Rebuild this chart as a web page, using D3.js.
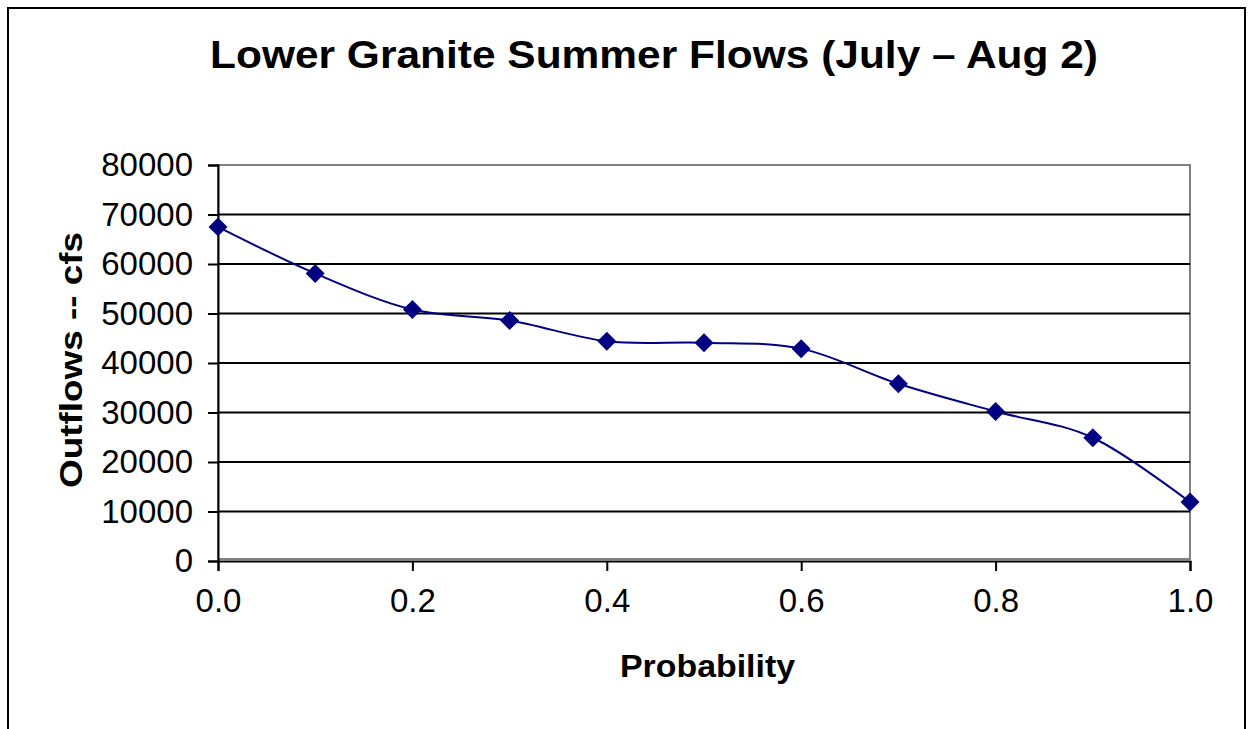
<!DOCTYPE html>
<head>
	<meta charset="utf-8">
	<title>Lower Granite Summer Flows</title>
	<script src="https://d3js.org/d3.v7.min.js"></script>
	<style>
		body { margin: 0; background: #fff; }
		text { font-family: "Liberation Sans", Arial, sans-serif; }
	</style>
</head>
<body>
	<div id="chart"></div>
	<script>
		// values
		var probability = [0.0, 0.1, 0.2, 0.3, 0.4, 0.5, 0.6, 0.7, 0.8, 0.9, 1.0];
		var outflows = [67500, 58100, 50800, 48600, 44400, 44100, 42900, 35800, 30200, 24900, 11900];
		var yTicks = [0, 10000, 20000, 30000, 40000, 50000, 60000, 70000, 80000];
		var xTicks = [0.0, 0.2, 0.4, 0.6, 0.8, 1.0];

		var W = 1250, H = 729;
		var plot = { left: 218, right: 1190, top: 165, bottom: 561 };

		var svg = d3.select("#chart").append("svg")
			.attr("width", W)
			.attr("height", H);

		// outer chart border
		svg.append("rect")
			.attr("x", 8).attr("y", 8)
			.attr("width", 1237).attr("height", 740)
			.attr("fill", "none")
			.attr("stroke", "#000")
			.attr("stroke-width", 2);

		var x = d3.scaleLinear().domain([0, 1]).range([plot.left, plot.right]);
		var y = d3.scaleLinear().domain([0, 80000]).range([plot.bottom, plot.top]);

		// plot area border (gray)
		svg.append("rect")
			.attr("x", plot.left).attr("y", plot.top)
			.attr("width", plot.right - plot.left)
			.attr("height", plot.bottom - plot.top - 2)
			.attr("fill", "none")
			.attr("stroke", "#808080")
			.attr("stroke-width", 2);

		// gridlines
		svg.append("g")
			.selectAll("line")
			.data(yTicks.filter(function (d) { return d > 0 && d < 80000; }))
			.enter().append("line")
			.attr("x1", plot.left).attr("x2", plot.right)
			.attr("y1", function (d) { return y(d); })
			.attr("y2", function (d) { return y(d); })
			.attr("stroke", "#000")
			.attr("stroke-width", 2);

		// y axis
		var yAxis = svg.append("g")
			.attr("transform", "translate(" + plot.left + ",0)")
			.call(d3.axisLeft(y).tickValues(yTicks).tickFormat(d3.format("d")).tickSize(10).tickPadding(15));
		yAxis.select(".domain").attr("stroke", "#000").attr("stroke-width", 2);
		yAxis.selectAll(".tick line").attr("stroke", "#000").attr("stroke-width", 2);
		yAxis.selectAll(".tick text")
			.style("font-size", "33px")
			.attr("fill", "#000");

		// x axis
		var xAxis = svg.append("g")
			.attr("transform", "translate(0," + plot.bottom + ")")
			.call(d3.axisBottom(x).tickValues(xTicks).tickFormat(d3.format(".1f")).tickSize(10).tickPadding(18));
		xAxis.select(".domain").attr("stroke", "#000").attr("stroke-width", 2);
		xAxis.selectAll(".tick line").attr("stroke", "#000").attr("stroke-width", 2);
		xAxis.selectAll(".tick text")
			.style("font-size", "33px")
			.attr("fill", "#000");

		// series
		var line = d3.line()
			.x(function (d, i) { return x(probability[i]); })
			.y(function (d) { return y(d); })
			.curve(d3.curveCardinal.tension(0));

		svg.append("path")
			.datum(outflows)
			.attr("d", line)
			.attr("fill", "none")
			.attr("stroke", "#000080")
			.attr("stroke-width", 2);

		svg.append("g")
			.selectAll("path")
			.data(outflows)
			.enter().append("path")
			.attr("d", d3.symbol().type(d3.symbolDiamond2).size(230))
			.attr("transform", function (d, i) {
				return "translate(" + x(probability[i]) + "," + y(d) + ")";
			})
			.attr("fill", "#000080");

		// titles (reference text is a bit wider than the font, so fit to measured width)
		svg.append("text")
			.attr("x", 210).attr("y", 68)
			.attr("textLength", 888)
			.attr("lengthAdjust", "spacingAndGlyphs")
			.style("font-size", "38px")
			.style("font-weight", "bold")
			.text("Lower Granite Summer Flows (July \u2013 Aug 2)");

		svg.append("text")
			.attr("x", 620).attr("y", 677)
			.attr("textLength", 175)
			.attr("lengthAdjust", "spacingAndGlyphs")
			.style("font-size", "32px")
			.style("font-weight", "bold")
			.text("Probability");

		svg.append("text")
			.attr("transform", "translate(82,488) rotate(-90)")
			.attr("textLength", 256)
			.attr("lengthAdjust", "spacingAndGlyphs")
			.style("font-size", "32px")
			.style("font-weight", "bold")
			.text("Outflows -- cfs");
	</script>
</body>
